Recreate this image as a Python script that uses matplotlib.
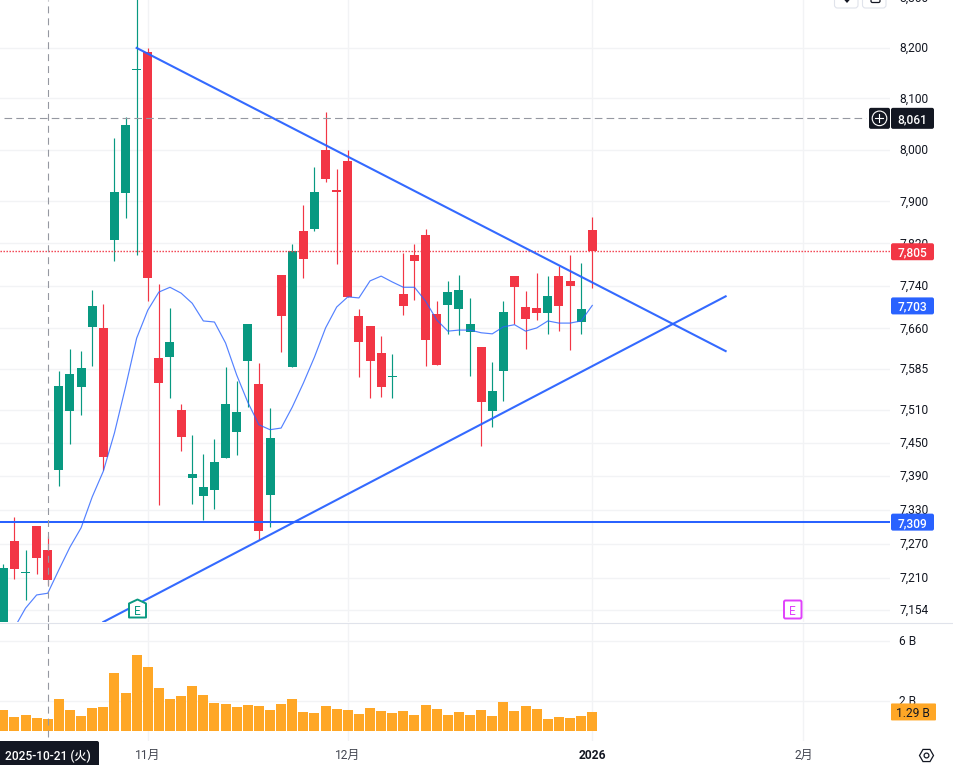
import matplotlib
matplotlib.use("Agg")
import matplotlib.pyplot as plt
from matplotlib.patches import FancyBboxPatch, Polygon, RegularPolygon, Circle
from matplotlib.transforms import ScaledTranslation

plt.rcParams["font.family"] = ["Roboto", "Noto Sans CJK JP", "DejaVu Sans"]
plt.rcParams["lines.scale_dashes"] = False

# candles
opens = [7123, 7275, 7219, 7302, 7259, 7401, 7508, 7552, 7663, 7661, 7827, 7916, 8157, 8192,
         7605, 7607, 7510, 7387, 7355, 7366, 7423, 7470, 7600, 7557, 7357, 7760, 7589, 7844,
         7847, 7999, 7921, 7978, 7683, 7665, 7614, 7571, 7724, 7798, 7836, 7687, 7704, 7696,
         7654, 7626, 7508, 7581, 7758, 7700, 7698, 7689, 7758, 7749, 7672, 7845]
closes = [7227, 7226, 7221, 7245, 7206, 7554, 7576, 7587, 7702, 7425, 7918, 8048, 8159, 7755,
          7559, 7635, 7461, 7394, 7371, 7416, 7521, 7506, 7669, 7293, 7459, 7683, 7806, 7790,
          7918, 7943, 7919, 7719, 7635, 7600, 7552, 7573, 7702, 7787, 7639, 7592, 7728, 7732,
          7669, 7524, 7544, 7691, 7737, 7678, 7689, 7720, 7702, 7739, 7696, 7805]
highs = [7234, 7318, 7259, 7302, 7284, 7581, 7622, 7618, 7732, 7706, 8023, 8064, 8330, 8200,
         7743, 7698, 7521, 7464, 7430, 7457, 7589, 7563, 7669, 7596, 7513, 7760, 7819, 7893,
         7966, 8073, 7962, 7999, 7696, 7665, 7646, 7613, 7802, 7819, 7847, 7711, 7749, 7760,
         7717, 7626, 7598, 7711, 7758, 7730, 7764, 7758, 7777, 7798, 7783, 7870]
lows = [7102, 7208, 7171, 7217, 7197, 7373, 7448, 7501, 7591, 7401, 7787, 7869, 7798, 7711,
        7339, 7532, 7435, 7341, 7311, 7332, 7423, 7428, 7515, 7277, 7300, 7616, 7589, 7755,
        7844, 7937, 7781, 7719, 7570, 7532, 7534, 7532, 7685, 7713, 7591, 7592, 7650, 7648,
        7572, 7444, 7479, 7526, 7669, 7622, 7676, 7650, 7655, 7620, 7650, 7735]
ma = [7085, 7123, 7157, 7180, 7183, 7224, 7264, 7298, 7353, 7399, 7468, 7552, 7642, 7694,
      7728, 7737, 7726, 7707, 7674, 7672, 7633, 7574, 7524, 7483, 7474, 7477, 7515, 7559,
      7607, 7661, 7700, 7719, 7717, 7749, 7758, 7747, 7737, 7737, 7711, 7676, 7655, 7657,
      7657, 7652, 7650, 7663, 7667, 7655, 7661, 7674, 7670, 7670, 7674, 7703]
volume = [1.44, 0.98, 1.11, 0.91, 0.84, 2.18, 1.44, 1.04, 1.58, 1.64, 3.91, 2.58, 5.11, 4.31,
          2.91, 2.18, 2.38, 3.04, 2.44, 1.91, 1.84, 1.64, 1.78, 1.71, 1.44, 1.84, 2.18, 1.31,
          1.24, 1.71, 1.51, 1.44, 1.18, 1.58, 1.38, 1.24, 1.38, 1.11, 1.78, 1.51, 1.11, 1.31,
          1.11, 1.44, 1.04, 1.98, 1.38, 1.71, 1.51, 0.84, 0.98, 0.91, 1.04, 1.29]

# trend lines (bar index, price)
down_x = [12, 65]
down_y = [8200, 7618]
up_x = [9, 65]
up_y = [7133, 7720]

price_ticks = [8200, 8100, 8000, 7900, 7820, 7740, 7660, 7585, 7510, 7450, 7390, 7330, 7270, 7210, 7154]
price_labels = ["8,200", "8,100", "8,000", "7,900", "7,820", "7,740", "7,660", "7,585",
                "7,510", "7,450", "7,390", "7,330", "7,270", "7,210", "7,154"]
vol_ticks = [2, 6]
vol_labels = ["2 B", "6 B"]
month_pos = [13, 31, 53, 72]
month_labels = ["11月", "12月", "2026", "2月"]

last_price = 7805
ma_last = 7703
h_level = 7309
cross_price = 8061
cross_bar = 4

GREEN = "#089981"
RED = "#f23645"
BLUE = "#2962ff"
ORANGE = "#ffa726"
DARK = "#131722"
GRID = "#f2f3f5"
TEXT = "#131722"

W, H = 954, 765
fig = plt.figure(figsize=(W / 100, H / 100), dpi=100, facecolor="white")


def rect(left, top, right, bottom):
    return [left / W, 1 - bottom / H, (right - left) / W, (bottom - top) / H]


ax = fig.add_axes(rect(0, 0, 890, 622))
ax2 = fig.add_axes(rect(0, 623, 890, 741), sharex=ax)

ax.set_yscale("log")
ax.set_xlim(-0.297, 79.79)
ax.set_ylim(7133, 8296)
ax.yaxis.set_major_locator(plt.FixedLocator(price_ticks))
ax.yaxis.set_major_formatter(plt.FixedFormatter(price_labels))
ax.yaxis.set_minor_locator(plt.NullLocator())
ax.yaxis.set_minor_formatter(plt.NullFormatter())
ax.yaxis.tick_right()
ax.tick_params(axis="y", length=0, pad=6.5, labelsize=8.64, labelcolor=TEXT)
ax.tick_params(axis="x", length=0, labelbottom=False)
ax.grid(True, color=GRID, lw=1)
ax.set_axisbelow(True)
for s in ax.spines.values():
    s.set_visible(False)
ax.text(899 / 890, 8300, "8,300", transform=ax.get_yaxis_transform(), clip_on=False,
        fontsize=8.64, color=TEXT, va="center", ha="left")

xs = range(len(opens))
for i in xs:
    col = GREEN if closes[i] >= opens[i] else RED
    ax.vlines(i, lows[i], highs[i], color=col, lw=0.85, zorder=2)
    ax.bar(i, abs(closes[i] - opens[i]), bottom=min(opens[i], closes[i]), width=0.81,
           color=col, lw=0, zorder=3)

ax.plot(list(xs), ma, color=BLUE, lw=0.85, alpha=0.8, zorder=4)
ax.plot(down_x, down_y, color=BLUE, lw=1.5, alpha=0.95, zorder=5)
ax.plot(up_x, up_y, color=BLUE, lw=1.5, alpha=0.95, zorder=5)
ax.axhline(h_level, color=BLUE, lw=1.45, zorder=5)
ax.axhline(last_price, color=RED, lw=1.0, ls=(0, (1.0, 1.16)), zorder=4)
ax.axhline(cross_price, xmin=4 / 890, xmax=866 / 890, color="#9598a1", lw=0.8, ls=(0, (5.5, 3)), zorder=6)
ax.axvline(cross_bar, color="#9598a1", lw=0.8, ls=(0, (5, 3.6)), zorder=6)

ax2.bar(list(xs), volume, width=0.9, color=ORANGE, lw=0, zorder=3)
ax2.set_ylim(-0.647, 7.22)
ax2.set_yticks(vol_ticks, vol_labels)
ax2.yaxis.tick_right()
ax2.tick_params(axis="y", length=0, pad=6.5, labelsize=8.64, labelcolor=TEXT)
ax2.set_xticks(month_pos, month_labels)
ax2.tick_params(axis="x", length=0, pad=6, labelsize=8.64, labelcolor="#434651")
ax.set_xticks(month_pos)
ax2.xaxis.get_ticklabels()[2].set_fontweight("bold")
ax2.xaxis.get_ticklabels()[2].set_color(TEXT)
ax2.grid(True, color=GRID, lw=1)
ax2.set_axisbelow(True)
ax2.axvline(cross_bar, ymin=(741 - 737) / 118, color="#9598a1", lw=0.8, ls=(0, (5, 3.6)), zorder=6)
for s in ax2.spines.values():
    s.set_visible(False)

# labels sit one pixel above their grid line
nudge = ScaledTranslation(0, 1 / 100, fig.dpi_scale_trans)
for lab in ax.get_yticklabels() + ax2.get_yticklabels():
    lab.set_transform(lab.get_transform() + nudge)

# overlay in pixel coords for the tags and icons
ov = fig.add_axes([0, 0, 1, 1], facecolor="none")
ov.set_xlim(0, W)
ov.set_ylim(H, 0)
ov.axis("off")
ov.plot([0, W], [622.5, 622.5], color="#e0e3eb", lw=0.8)


def box(x0, y0, x1, y1, fc, ec="none", r=2, lw=0, z=10):
    p = FancyBboxPatch((x0 + r, y0 + r), x1 - x0 - 2 * r, y1 - y0 - 2 * r,
                       boxstyle="round,pad=%g,rounding_size=%g" % (r, r),
                       fc=fc, ec=ec, lw=lw, zorder=z, clip_on=True)
    ov.add_patch(p)


def price_y(p):
    return H - ax.transData.transform((0, p))[1]


def tag(price, label, col):
    y = price_y(price) + 0.5
    box(891, y - 8.5, 934, y + 8.5, col)
    ov.text(912.5, y, label, color="white", fontsize=8.64, fontweight="medium",
            ha="center", va="center_baseline", zorder=11)


tag(last_price, "7,805", RED)
tag(ma_last, "7,703", BLUE)
tag(h_level, "7,309", BLUE)

# crosshair price with plus button
cy = price_y(cross_price)
box(891, cy - 10.5, 934, cy + 10.5, DARK)
ov.text(912.5, cy, "8,061", color="white", fontsize=8.64, fontweight="medium",
        ha="center", va="center_baseline", zorder=11)
box(869, cy - 10.5, 890, cy + 10.5, DARK)
ov.add_patch(Circle((879.5, cy), 7.3, fc="none", ec="white", lw=0.8, zorder=11))
ov.plot([875.5, 883.5], [cy, cy], color="white", lw=0.8, zorder=11)
ov.plot([879.5, 879.5], [cy - 4, cy + 4], color="white", lw=0.8, zorder=11)

# volume tag
vy = 731.3 - volume[-1] * 15
box(891, vy - 8.5, 936, vy + 8.5, ORANGE, r=1)
ov.text(913, vy, "1.29 B", color=TEXT, fontsize=8.64, ha="center", va="center_baseline", zorder=11)

# date tag on the crosshair
box(-4, 741, 99, 769, DARK)
ov.text(48, 755, "2025-10-21 (火)", color="white", fontsize=8.64, fontweight="medium",
        ha="center", va="center_baseline", zorder=11)

# earnings markers
ov.add_patch(Polygon([(129, 603.5), (137.5, 599.5), (146, 603.5), (146, 617.5), (129, 617.5)],
                     closed=True, fc="white", ec=GREEN, lw=1.4, joinstyle="round", zorder=8))
ov.text(137.5, 610, "E", color=GREEN, fontsize=8.6, ha="center", va="center_baseline", zorder=9)
box(784, 600.5, 801.5, 618.5, "white", ec="#e040fb", r=1.5, lw=1.4, z=8)
ov.text(792.6, 609.6, "E", color="#e040fb", fontsize=8.6, ha="center", va="center_baseline", zorder=9)

# settings icon bottom right
ov.add_patch(RegularPolygon((926.5, 755.5), 6, radius=7, orientation=0.5236, fc="none",
                            ec=TEXT, lw=0.9, zorder=11))
ov.add_patch(Circle((926.5, 755.5), 2.4, fc="none", ec=TEXT, lw=0.9, zorder=11))

# toolbar buttons cut off by the top edge
box(834.5, -6, 858, 8, "white", ec="#e0e3eb", r=3, lw=0.8)
box(862.5, -6, 886, 8, "white", ec="#e0e3eb", r=3, lw=0.8)
ov.add_patch(Polygon([(843.5, -1), (850.5, -1), (847, 3)], closed=True, fc=TEXT, ec="none", zorder=11))
box(871, -6, 880, 2.5, "white", ec=TEXT, r=1.5, lw=0.9, z=11)

fig.savefig("out.png", dpi=100)
